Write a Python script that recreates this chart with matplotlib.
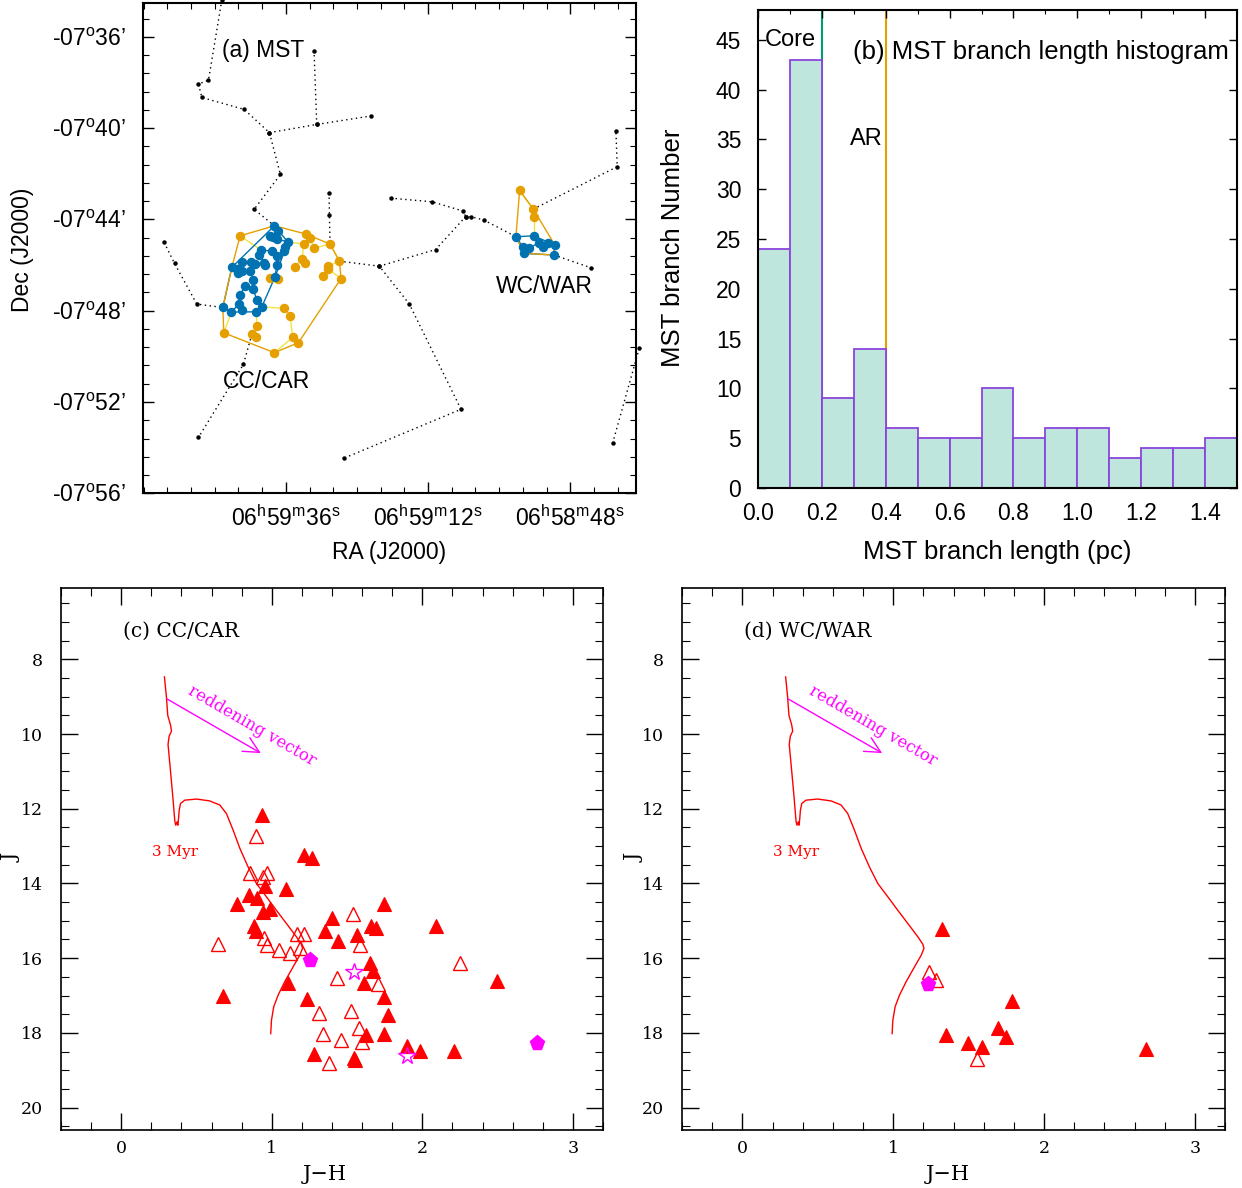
import numpy as np
import matplotlib
matplotlib.use('Agg')
import matplotlib.pyplot as plt
from matplotlib.ticker import MultipleLocator, FixedLocator

plt.rcParams['font.family'] = ['Liberation Sans', 'DejaVu Sans']
plt.rcParams['mathtext.fontset'] = 'custom'
plt.rcParams['mathtext.rm'] = 'Liberation Sans'

W, H = 1242, 1188
SERIF = 'DejaVu Serif'

# ---------------- (a) MST : RA in s after 06h58m00s, Dec in arcmin below -07d00m
# black MST branches (dotted), each is a polyline of (RA_s, Dec_arcmin)
branches = [
    [(106.80, 34.39), (109.05, 37.90), (110.74, 38.07), (110.17, 38.66), (103.03, 39.18),
     (98.76, 40.20), (96.91, 42.03), (101.35, 43.56), (97.92, 44.28)],
    [(98.76, 40.20), (90.78, 39.84), (81.67, 39.47)],
    [(90.78, 39.84), (91.23, 36.63)],
    [(88.70, 42.83), (88.64, 43.81), (88.53, 45.08)],
    [(116.53, 45.01), (114.78, 45.93), (111.02, 47.71), (106.63, 47.86)],
    [(101.74, 49.04), (103.15, 50.35), (110.74, 53.55)],
    [(86.95, 45.83), (80.21, 46.05), (75.15, 47.71), (66.43, 52.32), (86.17, 54.46)],
    [(80.21, 46.05), (70.71, 45.32), (65.65, 43.88), (64.75, 43.88), (62.56, 44.03), (57.16, 44.76)],
    [(78.30, 43.07), (71.27, 43.23), (66.04, 43.64), (65.65, 43.88)],
    [(54.23, 43.55), (40.07, 41.69), (40.29, 40.13)],
    [(50.75, 45.56), (44.51, 46.12)],
    [(36.36, 49.65), (40.85, 53.81)],
]

cc_core_ra = [97.92, 97.36, 98.65, 98.09, 97.52, 95.67, 96.06, 96.29, 100.22, 100.50, 98.31, 97.52,
              99.60, 99.49, 101.85, 103.31, 101.18, 105.11, 104.27, 103.99, 103.31, 102.02, 97.52,
              101.46, 101.46, 102.86, 103.76, 103.93, 103.31, 100.90, 100.05, 100.95, 105.17, 106.63, 97.80]
cc_core_dec = [44.28, 44.51, 44.73, 44.79, 44.85, 44.99, 45.20, 45.37, 45.34, 45.55, 45.39, 45.61,
               45.90, 46.02, 45.88, 45.87, 45.96, 46.10, 46.19, 46.37, 46.28, 46.25, 46.00,
               46.66, 47.07, 46.92, 47.32, 47.71, 47.97, 47.53, 47.83, 48.05, 48.06, 47.86, 46.51]
cc_ar_ra = [103.71, 92.63, 91.90, 91.23, 92.97, 88.53, 93.25, 92.80, 94.49, 86.95, 88.81, 88.81,
            89.77, 86.67, 98.65, 97.36, 96.29, 95.27, 100.90, 101.74, 101.07, 94.83, 93.87, 97.92, 106.46]
cc_ar_dec = [44.72, 44.64, 44.83, 45.26, 45.08, 45.08, 45.75, 45.90, 46.07, 45.83, 46.05, 46.19,
             46.48, 46.59, 46.56, 46.60, 47.90, 48.25, 48.66, 49.04, 49.17, 49.17, 49.40, 49.84, 48.97]
wc_core_ra = [57.16, 54.12, 56.03, 54.97, 53.34, 52.55, 51.71, 50.58, 55.75, 50.75]
wc_core_dec = [44.76, 44.72, 45.20, 45.24, 45.05, 45.23, 45.02, 45.13, 45.49, 45.56]
wc_ar_ra = [56.54, 54.23, 54.12]
wc_ar_dec = [42.73, 43.55, 43.88]

# ---------------- (b) histogram
bin_edges = np.round(np.arange(0, 1.51, 0.1), 2)
branch_counts = [24, 43, 9, 14, 6, 5, 5, 10, 5, 6, 6, 3, 4, 4, 5]
core_cut = 0.2
ar_cut = 0.4

# ---------------- (c), (d) CMDs
iso_jh = [0.287, 0.300, 0.309, 0.327, 0.334, 0.318, 0.311, 0.323, 0.341, 0.356, 0.362, 0.371, 0.376,
          0.380, 0.385, 0.394, 0.422, 0.500, 0.588, 0.655, 0.699, 0.743, 0.788, 0.843, 0.898, 0.965,
          1.031, 1.097, 1.164, 1.197, 1.204, 1.186, 1.142, 1.086, 1.042, 1.013, 0.998, 0.993]
iso_j = [8.47, 9.00, 9.50, 9.75, 9.92, 10.06, 10.28, 10.80, 11.60, 12.33, 12.44, 12.35, 12.44,
         12.30, 12.04, 11.86, 11.77, 11.74, 11.79, 11.90, 12.13, 12.57, 13.06, 13.56, 14.00, 14.36,
         14.72, 15.07, 15.43, 15.63, 15.74, 15.92, 16.23, 16.63, 16.99, 17.30, 17.66, 18.02]
redvec_start = (0.304, 9.06)
redvec_end = (0.927, 10.51)

cc_fill_jh = [0.932, 1.212, 1.266, 1.093, 0.771, 0.849, 0.903, 0.956, 0.939, 0.986, 0.880, 0.897,
              1.399, 1.352, 1.437, 1.565, 1.660, 1.691, 1.745, 2.092, 2.495, 1.650, 1.671, 1.615,
              1.110, 0.678, 1.235, 1.743, 1.774, 1.624, 1.743, 1.897, 1.982, 2.212, 1.281, 1.544, 1.553]
cc_fill_j = [12.18, 13.23, 13.32, 14.14, 14.54, 14.30, 14.40, 14.08, 14.77, 14.69, 15.15, 15.28,
             14.92, 15.28, 15.54, 15.39, 15.15, 15.20, 14.54, 15.15, 16.62, 16.13, 16.33, 16.66,
             16.66, 17.02, 17.10, 17.03, 17.53, 18.07, 18.04, 18.35, 18.48, 18.48, 18.56, 18.67, 18.73]
cc_open_jh = [0.894, 0.858, 0.965, 0.943, 0.641, 0.949, 0.965, 1.049, 1.124, 1.186, 1.170, 1.215,
              1.540, 1.589, 1.432, 1.706, 1.312, 1.525, 1.341, 1.458, 1.578, 1.600, 1.381, 2.250]
cc_open_j = [12.72, 13.73, 13.73, 13.84, 15.61, 15.47, 15.65, 15.79, 15.86, 15.72, 15.36, 15.36,
             14.82, 15.65, 16.53, 16.68, 17.46, 17.41, 18.02, 18.18, 17.88, 18.24, 18.80, 16.13]
cc_pent_jh = [1.252, 2.763]
cc_pent_j = [16.05, 18.28]
cc_star_jh = [1.549, 1.897]
cc_star_j = [16.38, 18.61]

wc_fill_jh = [1.324, 1.789, 1.696, 1.751, 1.349, 1.493, 1.592, 2.677]
wc_fill_j = [15.23, 17.14, 17.87, 18.11, 18.06, 18.26, 18.39, 18.42]
wc_open_jh = [1.238, 1.287, 1.559]
wc_open_j = [16.37, 16.59, 18.71]
wc_pent_jh = [1.231]
wc_pent_j = [16.68]

BLUE = '#0072B2'
ORANGE = '#E69F00'
YELLOW = '#F0E442'
GREEN = '#009E73'


def mst_edges(pts):
    # Prim's algorithm, RA seconds scaled to arcmin-like units
    p = np.array(pts, dtype=float)
    p[:, 0] *= 0.26
    n = len(p)
    d = np.hypot(p[:, None, 0] - p[None, :, 0], p[:, None, 1] - p[None, :, 1])
    inside = [0]
    edges = []
    while len(inside) < n:
        out = [k for k in range(n) if k not in inside]
        sub = d[np.ix_(inside, out)]
        i, j = np.unravel_index(np.argmin(sub), sub.shape)
        edges.append((inside[i], out[j]))
        inside.append(out[j])
    return edges


def hull(pts):
    pts = sorted(set(pts))

    def cross(o, a, b):
        return (a[0] - o[0]) * (b[1] - o[1]) - (a[1] - o[1]) * (b[0] - o[0])
    lower, upper = [], []
    for q in pts:
        while len(lower) >= 2 and cross(lower[-2], lower[-1], q) <= 0:
            lower.pop()
        lower.append(q)
    for q in reversed(pts):
        while len(upper) >= 2 and cross(upper[-2], upper[-1], q) <= 0:
            upper.pop()
        upper.append(q)
    h = lower[:-1] + upper[:-1]
    return h + [h[0]]


def draw_cluster(ax, core_ra, core_dec, ar_ra, ar_dec):
    core = list(zip(core_ra, core_dec))
    ar = list(zip(ar_ra, ar_dec))
    allp = core + ar
    ncore = len(core)
    for i, j in mst_edges(allp):
        c = BLUE if (i < ncore and j < ncore) else YELLOW
        ax.plot([allp[i][0], allp[j][0]], [allp[i][1], allp[j][1]], color=c, lw=1, zorder=3)
    hb = hull(core)
    ax.plot([q[0] for q in hb], [q[1] for q in hb], color=BLUE, lw=1, zorder=3)
    ho = hull(allp)
    ax.plot([q[0] for q in ho], [q[1] for q in ho], color=ORANGE, lw=1, zorder=3)
    ax.plot(ar_ra, ar_dec, 'o', color=ORANGE, ms=5.8, zorder=4)
    ax.plot(core_ra, core_dec, 'o', color=BLUE, ms=5.8, zorder=4)


fig = plt.figure(figsize=(W / 100, H / 100), dpi=100)

# ---------- panel (a)
ax1 = fig.add_axes([143 / W, 1 - 493.3 / H, 493 / W, 490.3 / H])
for br in branches:
    xs = [q[0] for q in br]
    ys = [q[1] for q in br]
    ax1.plot(xs, ys, ls=(0, (1, 2.5)), color='black', lw=1.0, zorder=2, clip_on=False)
    ax1.plot(xs, ys, 'o', color='black', ms=2.2, zorder=2, clip_on=False)
draw_cluster(ax1, cc_core_ra, cc_core_dec, cc_ar_ra, cc_ar_dec)
draw_cluster(ax1, wc_core_ra, wc_core_dec, wc_ar_ra, wc_ar_dec)
ax1.set_xlim(120.1, 36.9)
ax1.set_ylim(56.0, 34.52)
ax1.xaxis.set_major_locator(FixedLocator([96, 72, 48]))
ax1.xaxis.set_minor_locator(MultipleLocator(4))
ax1.set_xticklabels([r'06$^{\rm h}$59$^{\rm m}$36$^{\rm s}$', r'06$^{\rm h}$59$^{\rm m}$12$^{\rm s}$',
                     r'06$^{\rm h}$58$^{\rm m}$48$^{\rm s}$'])
ax1.yaxis.set_major_locator(FixedLocator([36, 40, 44, 48, 52, 56]))
ax1.yaxis.set_minor_locator(MultipleLocator(0.8))
ax1.set_yticklabels([r'-07$^{\rm o}$%02d’' % v for v in [36, 40, 44, 48, 52, 56]])
ax1.tick_params(which='both', direction='in', top=True, right=True, labelsize=16.5)
ax1.tick_params(which='major', length=8, width=1, pad=9)
ax1.tick_params(which='minor', length=4, width=0.8)
ax1.tick_params(axis='y', pad=12)
for s in ax1.spines.values():
    s.set_linewidth(1.5)
ax1.text(106.7, 36.58, '(a) MST', fontsize=16.5, va='center', ha='left')
ax1.text(52.3, 46.92, 'WC/WAR', fontsize=16.5, va='center', ha='center', zorder=5)
ax1.text(99.3, 51.09, 'CC/CAR', fontsize=16.5, va='center', ha='center', zorder=5)
fig.text(22 / W, 1 - 250 / H, 'Dec (J2000)', rotation=90, ha='center', va='center', fontsize=16.5)
fig.text(389 / W, 1 - 553 / H, 'RA (J2000)', ha='center', va='center', fontsize=16.5)

# ---------- panel (b)
ax2 = fig.add_axes([758 / W, 1 - 488 / H, 479 / W, 478 / H])
ax2.bar(bin_edges[:-1], branch_counts, width=0.1, align='edge', color='#bfe6dc',
        edgecolor='#8a44dd', lw=1.3, zorder=2)
ax2.axvline(core_cut, color=GREEN, lw=1.5, zorder=1)
ax2.axvline(ar_cut, color=ORANGE, lw=1.5, zorder=1)
ax2.set_xlim(0, 1.5)
ax2.set_ylim(0, 48)
ax2.xaxis.set_major_locator(MultipleLocator(0.2))
ax2.xaxis.set_minor_locator(MultipleLocator(0.1))
ax2.yaxis.set_major_locator(MultipleLocator(5))
ax2.xaxis.set_major_formatter(plt.FuncFormatter(lambda v, p: '%.1f' % v))
ax2.tick_params(which='both', direction='in', top=True, right=True, labelsize=16.5)
ax2.tick_params(which='major', length=6, width=1)
ax2.tick_params(which='minor', length=3, width=0.8)
ax2.tick_params(axis='y', pad=12)
ax2.tick_params(axis='x', pad=10)
for s in ax2.spines.values():
    s.set_linewidth(1.5)
ax2.text(0.02, 45.0, 'Core', fontsize=17, va='center', ha='left')
ax2.text(0.39, 35.0, 'AR', fontsize=17, va='center', ha='right')
ax2.text(1.475, 43.8, '(b) MST branch length histogram', fontsize=18.5, va='center', ha='right')
fig.text(673 / W, 1 - 248 / H, 'MST branch Number', rotation=90, ha='center', va='center', fontsize=18.5)
fig.text(997 / W, 1 - 552 / H, 'MST branch length (pc)', ha='center', va='center', fontsize=18.5)


# ---------- panels (c), (d)
def cmd_panel(rect, title, fjh, fj, ojh, oj, pjh, pj, sjh, sj, xlab_x, ylab_x):
    ax = fig.add_axes(rect)
    ax.plot(iso_jh, iso_j, color='red', lw=1)
    ax.annotate('', xy=redvec_end, xytext=redvec_start,
                arrowprops=dict(arrowstyle='->', color='magenta', lw=1, mutation_scale=28,
                                shrinkA=0, shrinkB=0))
    ax.text(0.866, 9.77, 'reddening vector', color='magenta', fontsize=12, family=SERIF,
            rotation=-30, rotation_mode='anchor', ha='center', va='center')
    ax.text(0.204, 13.17, '3 Myr', color='red', fontsize=11, family=SERIF, va='center', ha='left')
    ax.text(0.014, 7.24, title, fontsize=14.5, family=SERIF, va='center', ha='left')
    ax.plot(fjh, fj, '^', color='red', ms=10, mew=0.8, ls='none')
    ax.plot(ojh, oj, '^', mfc='none', mec='red', ms=10, mew=1, ls='none')
    ax.plot(pjh, pj, 'p', color='magenta', ms=11, ls='none')
    if sjh:
        ax.plot(sjh, sj, '*', mfc='none', mec='magenta', ms=13, mew=1, ls='none')
    ax.set_xlim(-0.4, 3.2)
    ax.set_ylim(20.6, 6.09)
    ax.xaxis.set_major_locator(MultipleLocator(1))
    ax.xaxis.set_minor_locator(MultipleLocator(0.2))
    ax.yaxis.set_major_locator(MultipleLocator(2))
    ax.yaxis.set_minor_locator(MultipleLocator(0.5))
    ax.tick_params(which='both', direction='in', top=True, right=True, labelsize=12.5,
                   labelfontfamily=SERIF)
    ax.tick_params(which='major', length=12, width=1)
    ax.tick_params(which='minor', length=6, width=0.8)
    ax.tick_params(axis='y', pad=13)
    ax.tick_params(axis='x', pad=7)
    for s in ax.spines.values():
        s.set_linewidth(1.2)
    fig.text(ylab_x / W, 1 - 858 / H, 'J', rotation=90, ha='center', va='center', fontsize=14.5, family=SERIF)
    fig.text(xlab_x / W, 1 - 1175 / H, 'J\u2212H', ha='center', va='center', fontsize=15, family=SERIF)
    return ax


cmd_panel([61 / W, 1 - 1130 / H, 542 / W, 542 / H], '(c) CC/CAR', cc_fill_jh, cc_fill_j,
          cc_open_jh, cc_open_j, cc_pent_jh, cc_pent_j, cc_star_jh, cc_star_j, 325, 12)
cmd_panel([682 / W, 1 - 1130 / H, 543 / W, 542 / H], '(d) WC/WAR', wc_fill_jh, wc_fill_j,
          wc_open_jh, wc_open_j, wc_pent_jh, wc_pent_j, [], [], 948, 635)

fig.savefig('out.png', dpi=100)
